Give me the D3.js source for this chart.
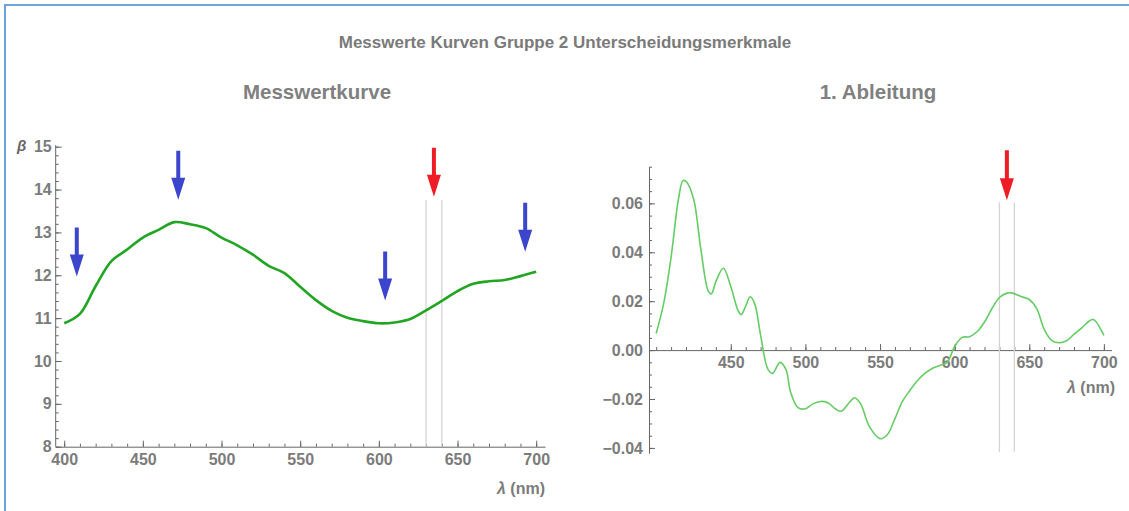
<!DOCTYPE html>
<html>
<head>
<meta charset="utf-8">
<script src="https://cdn.jsdelivr.net/npm/d3@7"></script>
<style>
  body { margin: 0; background: #fff; }
  svg { display: block; font-family: "Liberation Sans", Arial, sans-serif; }
  .tick text { fill: #7b7b7b; font-weight: bold; font-size: 16px; }
  .axis path, .axis line { stroke: #666; }
</style>
</head>
<body>
<svg id="chart" width="1129" height="511"></svg>
<script>
// Messwertkurve (beta over wavelength)
const lambda1 = [400, 410, 420, 430, 440, 450, 460, 470, 480, 490, 500, 510, 520, 530, 540,
                 550, 560, 570, 580, 590, 600, 610, 620, 630, 640, 650, 660, 670, 680, 690, 700];
const beta = [10.88, 11.1, 11.75, 12.33, 12.6, 12.88, 13.06, 13.24, 13.19, 13.1, 12.88, 12.7, 12.48, 12.22, 12.05,
              11.73, 11.42, 11.17, 11.01, 10.93, 10.88, 10.9, 10.98, 11.18, 11.4, 11.63, 11.8, 11.86, 11.89, 11.98, 12.08];

// 1. Ableitung
const lambda2 = [400, 405, 410, 415, 418, 420, 425, 430, 435, 437, 440, 445, 450, 455, 457, 460, 463, 466, 470,
                 475, 478, 483, 487, 490, 495, 500, 505, 510, 515, 520, 524, 530, 533, 537, 543, 550, 555, 560,
                 565, 570, 575, 580, 585, 590, 595, 600, 605, 610, 615, 620, 625, 630, 635, 638, 645, 650, 655,
                 660, 665, 670, 675, 680, 685, 690, 693, 700];
const deriv = [0.0068, 0.019, 0.038, 0.062, 0.0693, 0.069, 0.062, 0.041, 0.024, 0.023, 0.028, 0.0335, 0.026, 0.016,
               0.0145, 0.018, 0.0218, 0.019, 0.006, -0.008, -0.0095, -0.005, -0.008, -0.017, -0.0235, -0.024,
               -0.022, -0.021, -0.0215, -0.024, -0.025, -0.021, -0.0195, -0.022, -0.0314, -0.0362, -0.0345,
               -0.028, -0.021, -0.0165, -0.0125, -0.0095, -0.0075, -0.0063, -0.005, 0.0015, 0.0052, 0.0055,
               0.0075, 0.0115, 0.017, 0.0215, 0.0233, 0.0234, 0.0218, 0.0207, 0.017, 0.0085, 0.004, 0.003,
               0.0038, 0.0065, 0.009, 0.0118, 0.0125, 0.006];

// markers
const blueArrowNm = [408, 472.5, 604, 693];
const blueArrowTip = [11.97, 13.76, 11.41, 12.55];
const redArrowNm = 635;
const bandNm = [630, 640];

const xTicksMajor1 = [400, 450, 500, 550, 600, 650, 700];
const xTicksMajor2 = [450, 500, 550, 600, 650, 700];
const yTicksMajor1 = [8, 9, 10, 11, 12, 13, 14, 15];
const yTicksMajor2 = [-0.04, -0.02, 0, 0.02, 0.04, 0.06];

const svg = d3.select("#chart");

// frame
svg.append("path")
    .attr("d", "M5,511 V5 H1129")
    .attr("fill", "none")
    .attr("stroke", "#6fa3dc")
    .attr("stroke-width", 2);

svg.append("text")
    .attr("x", 565).attr("y", 48)
    .attr("text-anchor", "middle")
    .attr("font-size", 17).attr("font-weight", "bold")
    .attr("fill", "#7a7a7a")
    .text("Messwerte Kurven Gruppe 2 Unterscheidungsmerkmale");

function arrow(g, x, yTip, len, color) {
    const hw = 7, hl = 22, sw = 2;
    const p = d3.path();
    p.moveTo(x - sw, yTip - len);
    p.lineTo(x + sw, yTip - len);
    p.lineTo(x + sw, yTip - hl);
    p.lineTo(x + hw, yTip - hl);
    p.lineTo(x, yTip);
    p.lineTo(x - hw, yTip - hl);
    p.lineTo(x - sw, yTip - hl);
    p.closePath();
    g.append("path").attr("d", p.toString()).attr("fill", color);
}

function range(a, b, s) {
    const out = [];
    for (let v = a; v <= b + s / 2; v += s) out.push(+v.toFixed(4));
    return out;
}

// ---------- left: Messwertkurve ----------
const x1 = d3.scaleLinear().domain([394.6, 705.6]).range([55.7, 545]);
const y1 = d3.scaleLinear().domain([8, 15]).range([446.7, 146.7]);

const g1 = svg.append("g");

g1.append("text")
    .attr("x", 317).attr("y", 99)
    .attr("text-anchor", "middle")
    .attr("font-size", 20.5).attr("font-weight", "bold")
    .attr("fill", "#808080")
    .text("Messwertkurve");

// minor ticks
g1.append("g").attr("class", "axis")
    .attr("transform", `translate(0,${y1(8)})`)
    .call(d3.axisBottom(x1).tickValues(range(400, 700, 10)).tickSize(-3).tickSizeOuter(0).tickFormat(""))
    .call(a => a.select(".domain").remove());
g1.append("g").attr("class", "axis")
    .attr("transform", `translate(${x1(394.6)},0)`)
    .call(d3.axisLeft(y1).tickValues(range(8, 15, 0.2)).tickSize(-3).tickSizeOuter(0).tickFormat(""))
    .call(a => a.select(".domain").remove());

g1.append("g").attr("class", "axis")
    .attr("transform", `translate(0,${y1(8)})`)
    .call(d3.axisBottom(x1).tickValues(xTicksMajor1).tickSize(-6).tickSizeOuter(0).tickPadding(6))
    .call(a => a.selectAll(".tick text").attr("dy", "0.75em"));
g1.append("g").attr("class", "axis")
    .attr("transform", `translate(${x1(394.6)},0)`)
    .call(d3.axisLeft(y1).tickValues(yTicksMajor1).tickSize(-6).tickSizeOuter(0).tickPadding(4)
        .tickFormat(d3.format("d")))
    .call(a => a.select(".domain").attr("d", `M0,${y1(8)}V${y1(15) - 1.5}`));

g1.append("text")
    .attr("x", 17).attr("y", 151)
    .attr("font-size", 15).attr("font-style", "italic").attr("font-weight", "bold")
    .attr("fill", "#666")
    .text("β");

g1.append("text")
    .attr("x", 545).attr("y", 494)
    .attr("text-anchor", "end")
    .attr("font-size", 16).attr("font-weight", "bold")
    .attr("fill", "#7b7b7b")
    .html('<tspan font-style="italic">λ</tspan> (nm)');

g1.selectAll(".band")
    .data(bandNm)
    .join("line")
    .attr("x1", d => x1(d)).attr("x2", d => x1(d))
    .attr("y1", y1(13.76)).attr("y2", y1(8))
    .attr("stroke", "#d4d4d4").attr("stroke-width", 1.3);

g1.append("path")
    .datum(lambda1.map((l, i) => [l, beta[i]]))
    .attr("fill", "none")
    .attr("stroke", "#22a522")
    .attr("stroke-width", 2.6)
    .attr("d", d3.line().x(d => x1(d[0])).y(d => y1(d[1])).curve(d3.curveCatmullRom));

blueArrowNm.forEach((l, i) => arrow(g1, x1(l), y1(blueArrowTip[i]), 49, "#3c46cc"));
arrow(g1, x1(redArrowNm), y1(13.83), 49, "#ee1c25");

// ---------- right: 1. Ableitung ----------
const x2 = d3.scaleLinear().domain([395.2, 705.1]).range([649, 1111.5]);
const y2 = d3.scaleLinear().domain([-0.0422, 0.075]).range([453.3, 166.7]);

const g2 = svg.append("g");

g2.append("text")
    .attr("x", 878).attr("y", 99)
    .attr("text-anchor", "middle")
    .attr("font-size", 20.5).attr("font-weight", "bold")
    .attr("fill", "#808080")
    .text("1. Ableitung");

g2.append("g").attr("class", "axis")
    .attr("transform", `translate(0,${y2(0)})`)
    .call(d3.axisBottom(x2).tickValues(range(400, 700, 10)).tickSize(-3).tickSizeOuter(0).tickFormat(""))
    .call(a => a.select(".domain").remove());
g2.append("g").attr("class", "axis")
    .attr("transform", `translate(${x2(395.2)},0)`)
    .call(d3.axisLeft(y2).tickValues(range(-0.04, 0.075, 0.005)).tickSize(-3).tickSizeOuter(0).tickFormat(""))
    .call(a => a.select(".domain").remove());

g2.append("g").attr("class", "axis")
    .attr("transform", `translate(0,${y2(0)})`)
    .call(d3.axisBottom(x2).tickValues(xTicksMajor2).tickSize(-6).tickSizeOuter(0).tickPadding(6))
    .call(a => a.selectAll(".tick text").attr("dy", "0.75em"));
g2.append("g").attr("class", "axis")
    .attr("transform", `translate(${x2(395.2)},0)`)
    .call(d3.axisLeft(y2).tickValues(yTicksMajor2).tickSize(-6).tickSizeOuter(0).tickPadding(6)
        .tickFormat(d3.format(".2f")));

g2.append("text")
    .attr("x", 1115).attr("y", 393)
    .attr("text-anchor", "end")
    .attr("font-size", 16).attr("font-weight", "bold")
    .attr("fill", "#7b7b7b")
    .html('<tspan font-style="italic">λ</tspan> (nm)');

g2.selectAll(".band")
    .data(bandNm)
    .join("line")
    .attr("x1", d => x2(d)).attr("x2", d => x2(d))
    .attr("y1", y2(0.0604)).attr("y2", y2(-0.0416))
    .attr("stroke", "#d4d4d4").attr("stroke-width", 1.3);

g2.append("path")
    .datum(lambda2.map((l, i) => [l, deriv[i]]))
    .attr("fill", "none")
    .attr("stroke", "#66cc66")
    .attr("stroke-width", 1.6)
    .attr("d", d3.line().x(d => x2(d[0])).y(d => y2(d[1])).curve(d3.curveCatmullRom));

arrow(g2, x2(redArrowNm), y2(0.0613), 50, "#ee1c25");
</script>
</body>
</html>
